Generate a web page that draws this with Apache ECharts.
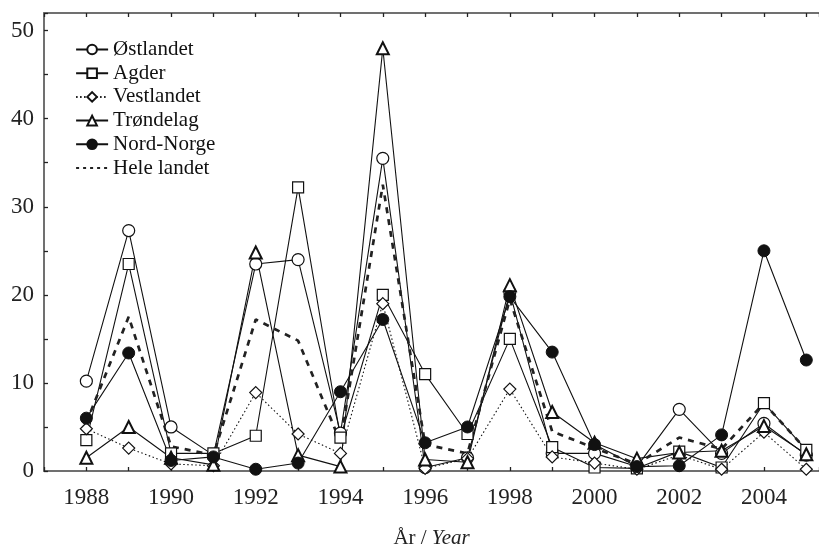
<!DOCTYPE html>
<html>
<head>
<meta charset="utf-8">
<script src="https://cdn.jsdelivr.net/npm/echarts@6/dist/echarts.min.js"></script>
<style>
html,body{margin:0;padding:0;background:#fff;}
#chart{width:819px;height:546px;}
</style>
</head>
<body>
<div id="chart"></div>
<script>
const years = [1988,1989,1990,1991,1992,1993,1994,1995,1996,1997,1998,1999,2000,2001,2002,2003,2004,2005];
const ostlandet  = [10.2, 27.3, 5.0, 1.8, 23.5, 24.0, 4.3, 35.5, 0.4, 1.5, 20.3, 2.0, 2.0, 0.5, 7.0, 2.0, 5.4, 1.8];
const agder      = [3.5, 23.5, 2.0, 2.0, 4.0, 32.2, 3.8, 20.0, 11.0, 4.2, 15.0, 2.7, 0.4, 0.3, 2.2, 0.4, 7.7, 2.4];
const vestlandet = [4.8, 2.6, 0.8, 0.6, 8.9, 4.2, 2.0, 19.0, 0.3, 1.4, 9.3, 1.6, 0.9, 0.2, 1.8, 0.2, 4.4, 0.2];
const trondelag  = [1.5, 5.0, 1.5, 0.7, 24.8, 1.8, 0.5, 48.0, 1.3, 1.0, 21.1, 6.7, 3.2, 1.4, 2.1, 2.3, 5.1, 1.9];
const nordNorge  = [6.0, 13.4, 1.2, 1.6, 0.2, 0.9, 9.0, 17.2, 3.2, 5.0, 19.8, 13.5, 3.0, 0.5, 0.6, 4.1, 25.0, 12.6];
const heleLandet = [5.5, 17.5, 2.8, 1.8, 17.2, 14.8, 3.3, 32.5, 3.0, 2.0, 19.5, 4.5, 2.6, 0.8, 3.8, 2.5, 7.7, 2.4];
const seriesNames = ['Østlandet','Agder','Vestlandet','Trøndelag','Nord-Norge','Hele landet'];
const yTickLabels = [0,10,20,30,40,50];
const xTickLabels = [1988,1990,1992,1994,1996,1998,2000,2002,2004];

const FONT = 'Liberation Serif';
const zip = arr => years.map((y,i)=>[y, arr[i]]);

function mk(name, arr, symbol, opts){
  return Object.assign({
    name, type:'line', data: zip(arr), symbol, symbolSize: 11,
    showSymbol: symbol !== 'none',
    lineStyle:{color:'#111', width:1.1, type:'solid'},
    itemStyle:{color:'#fff', borderColor:'#111', borderWidth:1.2},
    emphasis:{disabled:true}, animation:false
  }, opts||{});
}

const series = [
  mk(seriesNames[0], ostlandet, 'circle', {symbolSize:12}),
  mk(seriesNames[1], agder, 'rect', {symbolSize:11}),
  mk(seriesNames[2], vestlandet, 'diamond', {symbolSize:12, lineStyle:{color:'#111', width:1.1, type:[1.5,2.5]}}),
  mk(seriesNames[3], trondelag, 'triangle', {symbolSize:12, itemStyle:{color:'#fff', borderColor:'#111', borderWidth:2}}),
  mk(seriesNames[4], nordNorge, 'circle', {symbolSize:12, itemStyle:{color:'#111', borderColor:'#111', borderWidth:1}}),
  mk(seriesNames[5], heleLandet, 'none', {lineStyle:{color:'#222', width:2.7, type:[6,6]}, z:3})
];

const axisLineStyle = {color:'#707070', width:2};
const tickStyle = {color:'#222', width:1.3};

const legendData = seriesNames.map((n,i) => i === 5
  ? {name:n, itemStyle:{opacity:0, borderWidth:0}, lineStyle:{type:[3,4], width:2.2}}
  : {name:n});

const chart = echarts.init(document.getElementById('chart'), null, {renderer:'canvas'});
chart.setOption({
  animation:false,
  backgroundColor:'#fff',
  grid:{left:44, right:0, top:13, bottom:75, containLabel:false, outerBoundsMode:'none'},
  legend:{
    left:75, top:39, orient:'vertical', padding:0,
    itemWidth:32, itemHeight:12, itemGap:2.7,
    textStyle:{fontFamily:FONT, fontSize:21, color:'#111', lineHeight:21},
    data: legendData,
    selectedMode:false
  },
  xAxis:[{
    type:'value', min:1987, max:2005.3, interval:1, position:'bottom',
    axisLine:{show:true, onZero:false, lineStyle:axisLineStyle},
    axisTick:{show:true, inside:true, length:4, lineStyle:tickStyle},
    axisLabel:{margin:15, fontFamily:FONT, fontSize:23, color:'#222',
      formatter: v => xTickLabels.indexOf(v) >= 0 ? String(v) : ''},
    splitLine:{show:false},
    name:'{a|År / }{b|Year}', nameLocation:'middle', nameGap:57,
    nameTextStyle:{rich:{a:{fontFamily:FONT, fontSize:21, color:'#222'}, b:{fontFamily:FONT, fontSize:21, fontStyle:'italic', color:'#222'}}}
  },{
    type:'value', min:1987, max:2005.3, interval:1, position:'top',
    axisLine:{show:true, onZero:false, lineStyle:axisLineStyle},
    axisTick:{show:true, inside:true, length:4, lineStyle:tickStyle},
    axisLabel:{show:false}, splitLine:{show:false}
  }],
  yAxis:{
    type:'value', min:0, max:52, interval:5,
    axisLine:{show:true, onZero:false, lineStyle:axisLineStyle},
    axisTick:{show:true, inside:true, length:4, lineStyle:tickStyle},
    axisLabel:{margin:10, fontFamily:FONT, fontSize:23, color:'#222',
      formatter: v => yTickLabels.indexOf(v) >= 0 ? String(v) : ''},
    splitLine:{show:false}
  },
  series
});
</script>
</body>
</html>
